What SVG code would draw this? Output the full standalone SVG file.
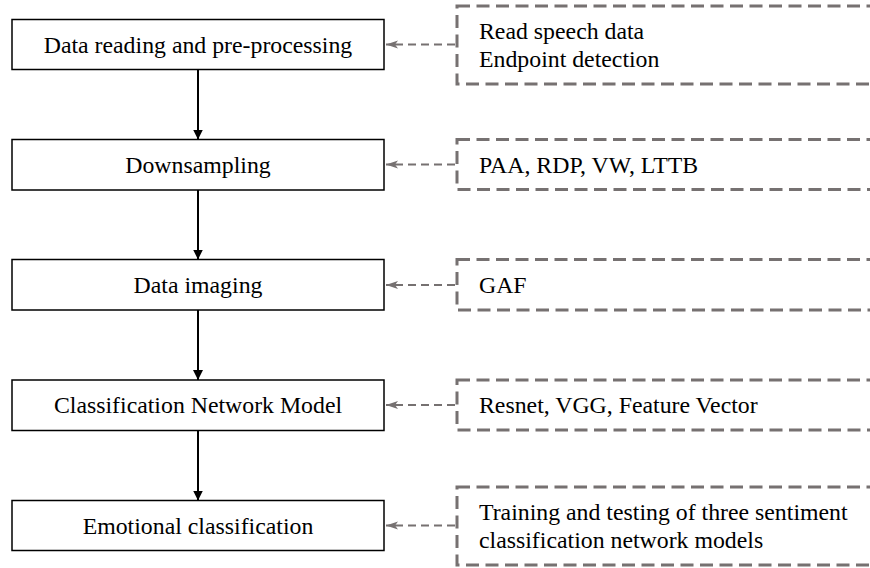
<svg xmlns="http://www.w3.org/2000/svg" width="870" height="568" viewBox="0 0 870 568">
  <style>
    .step { fill: #ffffff; stroke: #000000; stroke-width: 1.5; }
    .note { fill: none; stroke: #767171; stroke-width: 3; stroke-dasharray: 13 6.5; }
    .mid { text-anchor: middle; }
    .flow { stroke: #000000; stroke-width: 2; fill: none; }
    .ref { stroke: #767171; stroke-width: 2; stroke-dasharray: 8 5; fill: none; }
  </style>
  <defs>
    <marker id="headBlack" markerWidth="10" markerHeight="13" refX="10" refY="6.5" orient="auto" markerUnits="userSpaceOnUse">
      <path d="M0,1.5 L10,6.5 L0,11.5 Z" fill="#000000"/>
    </marker>
    <marker id="headGray" markerWidth="12" markerHeight="10" refX="12" refY="5" orient="auto" markerUnits="userSpaceOnUse">
      <path d="M0,1 L12,5 L0,9 L3,5 Z" fill="#767171"/>
    </marker>
  </defs>

  <g font-family="Liberation Serif, DejaVu Serif, serif" font-size="23.8" fill="#000000">
    <!-- process steps -->
    <g id="step-reading">
      <rect class="step" x="12" y="19.5" width="372" height="50"/>
      <text class="mid" x="198" y="52.5">Data reading and pre-processing</text>
    </g>
    <g id="step-downsampling">
      <rect class="step" x="12" y="139.5" width="372" height="50.5"/>
      <text class="mid" x="198" y="172.8">Downsampling</text>
    </g>
    <g id="step-imaging">
      <rect class="step" x="12" y="259.5" width="372" height="50.5"/>
      <text class="mid" x="198" y="292.8">Data imaging</text>
    </g>
    <g id="step-model">
      <rect class="step" x="12" y="380" width="372" height="50.5"/>
      <text class="mid" x="198" y="413.3">Classification Network Model</text>
    </g>
    <g id="step-emotion">
      <rect class="step" x="12" y="500.5" width="372" height="50"/>
      <text class="mid" x="198" y="533.5">Emotional classification</text>
    </g>

    <!-- detail notes (run past the right edge) -->
    <g id="note-reading">
      <rect class="note" x="457" y="6" width="440" height="78"/>
      <text x="479" y="39">Read speech data</text>
      <text x="479" y="67">Endpoint detection</text>
    </g>
    <g id="note-downsampling">
      <rect class="note" x="457" y="139.5" width="440" height="50"/>
      <text x="479" y="172.8">PAA, RDP, VW, LTTB</text>
    </g>
    <g id="note-imaging">
      <rect class="note" x="457" y="259.5" width="440" height="50.5"/>
      <text x="479" y="292.8">GAF</text>
    </g>
    <g id="note-model">
      <rect class="note" x="457" y="380" width="440" height="50"/>
      <text x="479" y="413.3">Resnet, VGG, Feature Vector</text>
    </g>
    <g id="note-emotion">
      <rect class="note" x="457" y="487" width="440" height="78"/>
      <text x="479" y="520">Training and testing of three sentiment</text>
      <text x="479" y="548">classification network models</text>
    </g>
  </g>

  <!-- connectors -->
  <g id="connectors">
    <line class="flow" x1="198" y1="69.5" x2="198" y2="139.5" marker-end="url(#headBlack)"/>
    <line class="flow" x1="198" y1="190" x2="198" y2="259.5" marker-end="url(#headBlack)"/>
    <line class="flow" x1="198" y1="310" x2="198" y2="380" marker-end="url(#headBlack)"/>
    <line class="flow" x1="198" y1="430.5" x2="198" y2="500.5" marker-end="url(#headBlack)"/>

    <line class="ref" x1="455" y1="44.5" x2="386" y2="44.5" marker-end="url(#headGray)"/>
    <line class="ref" x1="455" y1="164.5" x2="386" y2="164.5" marker-end="url(#headGray)"/>
    <line class="ref" x1="455" y1="285" x2="386" y2="285" marker-end="url(#headGray)"/>
    <line class="ref" x1="455" y1="405" x2="386" y2="405" marker-end="url(#headGray)"/>
    <line class="ref" x1="455" y1="525.5" x2="386" y2="525.5" marker-end="url(#headGray)"/>
  </g>
</svg>
